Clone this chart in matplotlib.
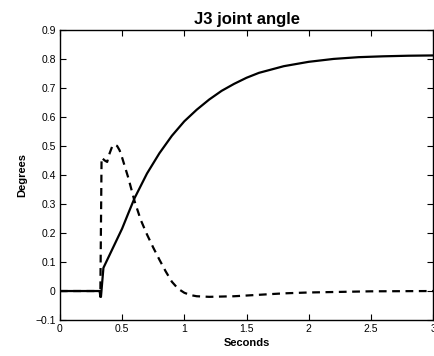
import numpy as np
import matplotlib.pyplot as plt

plt.rcParams['font.family'] = ['Liberation Sans', 'DejaVu Sans']

# solid curve: joint angle
t_angle = [0, 0.32, 0.33, 0.35, 0.4, 0.45, 0.5, 0.55, 0.6, 0.7, 0.8, 0.9, 1.0,
           1.1, 1.2, 1.3, 1.4, 1.5, 1.6, 1.8, 2.0, 2.2, 2.4, 2.6, 2.8, 3.0]
angle = [0, 0, -0.02, 0.08, 0.125, 0.17, 0.215, 0.268, 0.32, 0.405, 0.475,
         0.535, 0.585, 0.625, 0.66, 0.69, 0.714, 0.735, 0.752, 0.775, 0.79,
         0.8, 0.806, 0.809, 0.811, 0.812]

# dashed curve
t_rate = [0, 0.32, 0.325, 0.335, 0.36, 0.38, 0.40, 0.42, 0.44, 0.46, 0.48, 0.5,
          0.55, 0.6, 0.65, 0.7, 0.75, 0.8, 0.85, 0.9, 0.95, 1.0, 1.05, 1.1,
          1.2, 1.4, 1.6, 1.8, 2.0, 2.5, 3.0]
rate = [0, 0, -0.02, 0.46, 0.45, 0.445, 0.475, 0.498, 0.505, 0.5, 0.485, 0.46,
        0.39, 0.31, 0.245, 0.195, 0.15, 0.108, 0.068, 0.032, 0.008, -0.006,
        -0.014, -0.018, -0.02, -0.018, -0.013, -0.008, -0.005, -0.001, 0]

fig = plt.figure(figsize=(4.34, 3.56), dpi=100)
ax = fig.add_axes([0.138, 0.101, 0.86, 0.815])

ax.plot(t_angle, angle, color='black', lw=1.6)
ax.plot(t_rate, rate, color='black', lw=1.6, ls=(0, (3.5, 2.5)))

ax.set_xlim(0, 3)
ax.set_ylim(-0.1, 0.9)
ax.set_xticks(np.arange(0, 3.01, 0.5))
ax.set_xticklabels(['0', '0.5', '1', '1.5', '2', '2.5', '3'])
ax.set_yticks(np.arange(-0.1, 0.91, 0.1))
ax.set_yticklabels(['\u22120.1', '0', '0.1', '0.2', '0.3', '0.4', '0.5',
                    '0.6', '0.7', '0.8', '0.9'])
ax.tick_params(direction='in', top=True, right=True, labelsize=7.5,
               length=4, width=0.8, pad=3)
for s in ax.spines.values():
    s.set_linewidth(1.0)

ax.set_title('J3 joint angle', fontsize=12, fontweight='bold', pad=4)
ax.set_xlabel('Seconds', fontsize=8, fontweight='bold', labelpad=2.5)
ax.set_ylabel('Degrees', fontsize=8, fontweight='bold', labelpad=6)

fig.savefig('out.png', dpi=100)
